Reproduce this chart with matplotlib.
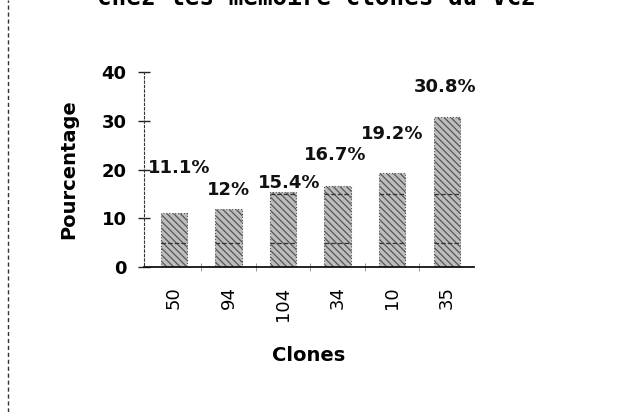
import matplotlib.pyplot as plt
from matplotlib.lines import Line2D

clones = ["50", "94", "104", "34", "10", "35"]
percent = [11.1, 12.0, 15.4, 16.7, 19.2, 30.8]
value_labels = ["11.1%", "12%", "15.4%", "16.7%", "19.2%", "30.8%"]
y_ticks = [0, 10, 20, 30, 40]

# where each value label sits relative to the top of its bar
label_dx = [0.09, 0.0, 0.12, -0.05, 0.0, -0.03]
label_dy = [9.3, 3.7, 1.9, 6.2, 8.0, 6.2]


def main():
    plt.rcParams["font.family"] = ["DejaVu Sans"]
    plt.rcParams["hatch.linewidth"] = 0.9

    fig = plt.figure(figsize=(6.26, 4.12), dpi=100)
    ax = fig.add_axes([0.230, 0.352, 0.527, 0.473])

    x = list(range(len(clones)))
    ax.bar(
        x,
        percent,
        width=0.48,
        color="#bdbdbd",
        edgecolor="#555555",
        hatch="\\\\\\\\\\",
        linewidth=0.8,
        linestyle=":",
        zorder=2,
    )

    # faint dashed rules that show through the bars
    for level in (5, 15):
        for i, v in enumerate(percent):
            if v > level:
                ax.hlines(level, i - 0.24, i + 0.24, colors="#333333",
                          linewidth=0.9, linestyles="--", zorder=3)

    for i, v in enumerate(percent):
        ax.text(i + label_dx[i], v + label_dy[i], value_labels[i],
                ha="center", va="center", fontsize=13, fontweight="bold",
                color="#111111")

    ax.set_xlim(-0.55, 5.5)
    ax.set_ylim(0, 40)

    for side in ("top", "right"):
        ax.spines[side].set_visible(False)
    ax.spines["left"].set_linestyle((0, (2, 2)))
    ax.spines["left"].set_linewidth(0.8)
    ax.spines["left"].set_color("#333333")
    ax.spines["left"].set_bounds(0.5, 40)
    ax.spines["bottom"].set_linewidth(1.3)
    ax.spines["bottom"].set_color("#111111")

    ax.set_yticks(y_ticks)
    ax.set_yticklabels([str(t) for t in y_ticks], fontsize=13,
                       fontweight="bold")
    ax.tick_params(axis="y", direction="inout", length=9, width=1.0,
                   pad=8, color="#222222")

    ax.set_xticks(x)
    ax.set_xticklabels(clones, rotation=90, fontsize=13)
    ax.tick_params(axis="x", length=0, pad=14)
    ax.set_xticks([i + 0.5 for i in x[:-1]], minor=True)
    ax.tick_params(axis="x", which="minor", direction="inout", length=6,
                   width=0.6, color="#888888")

    ax.set_xlabel("Clones", fontsize=14, fontweight="bold")
    ax.xaxis.set_label_coords(0.5, -0.405)
    ax.set_ylabel("Pourcentage", fontsize=14, fontweight="bold")
    ax.yaxis.set_label_coords(-0.20, 0.5)

    # title text running off the top edge of the page
    fig.text(0.506, 0.988, "chez les mémoire clones du VC2", ha="center",
             va="baseline", fontsize=17.5, fontweight="bold",
             family="DejaVu Sans Mono")

    # dashed page border on the left
    fig.add_artist(Line2D([0.013, 0.013], [0, 1], transform=fig.transFigure,
                          color="#333333", linewidth=1.0,
                          linestyle=(0, (3, 2))))

    fig.savefig("out.png", dpi=100)


if __name__ == "__main__":
    main()
